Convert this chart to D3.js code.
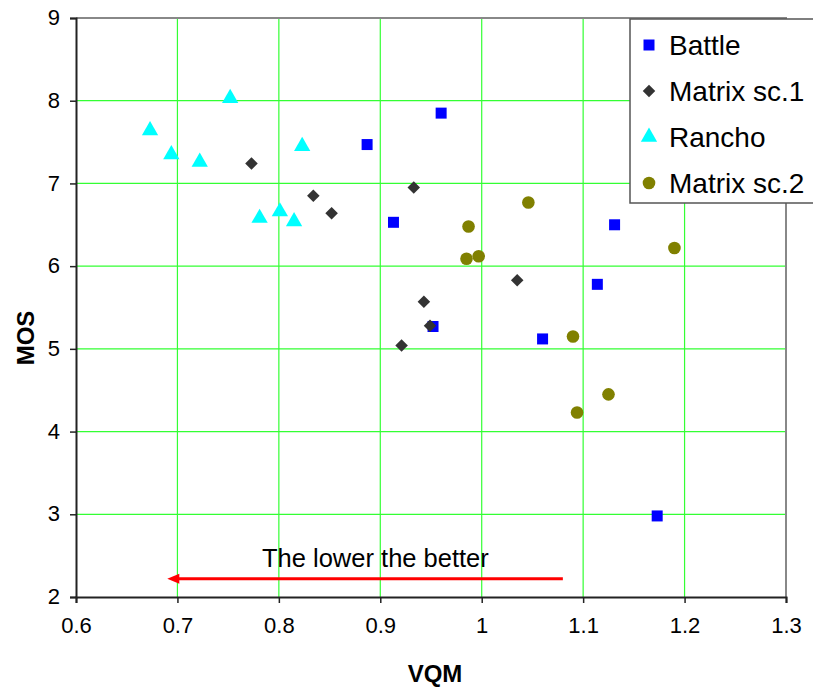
<!DOCTYPE html>
<html><head><meta charset="utf-8">
<script src="https://cdn.jsdelivr.net/npm/d3@7"></script>
<style>body{margin:0;background:#fff;} svg{display:block;font-family:Arial,"Liberation Sans",sans-serif;}</style>
</head><body><svg id="c" width="813" height="689"></svg>
<script>
const xTicks = [0.6,0.7,0.8,0.9,1.0,1.1,1.2,1.3];
const yTicks = [2,3,4,5,6,7,8,9];
const seriesNames = ["Battle","Matrix sc.1","Rancho","Matrix sc.2"];
const battleX = [0.960,0.887,0.913,1.131,1.114,0.952,1.060,1.173];
const battleY = [7.85,7.47,6.53,6.50,5.78,5.27,5.12,2.98];
const matrix1X = [0.773,0.834,0.852,0.933,1.035,0.943,0.949,0.921];
const matrix1Y = [7.24,6.85,6.64,6.95,5.83,5.57,5.28,5.04];
const ranchoX = [0.673,0.694,0.722,0.752,0.823,0.781,0.801,0.815];
const ranchoY = [7.64,7.35,7.26,8.03,7.45,6.58,6.66,6.54];
const matrix2X = [1.046,0.987,0.985,0.997,1.190,1.090,1.125,1.094];
const matrix2Y = [6.77,6.48,6.09,6.12,6.22,5.15,4.45,4.23];
const annotation = "The lower the better";
const arrowFrom = [1.08, 2.22], arrowTo = [0.69, 2.22];

const svg = d3.select("#c");
const L=76, R=786, T=18, B=597;
const x = d3.scaleLinear().domain([0.6,1.3]).range([L,R]);
const y = d3.scaleLinear().domain([2,9]).range([B,T]);

// grid
svg.append("g").selectAll("line").data(xTicks.slice(1,-1)).join("line")
  .attr("x1",d=>x(d)).attr("x2",d=>x(d)).attr("y1",T).attr("y2",B)
  .attr("stroke","#33ff33").attr("stroke-width",1.2);
svg.append("g").selectAll("line").data(yTicks.slice(1,-1)).join("line")
  .attr("y1",d=>y(d)).attr("y2",d=>y(d)).attr("x1",L).attr("x2",R)
  .attr("stroke","#33ff33").attr("stroke-width",1.2);
// top/right border
svg.append("path").attr("d",`M${L},${T}H${R}V${B}`).attr("fill","none").attr("stroke","#888").attr("stroke-width",2);

// axes
const xAxis = svg.append("g").attr("transform",`translate(0,${B})`)
  .call(d3.axisBottom(x).tickValues(xTicks).tickFormat(d=>String(+d.toFixed(1))).tickSize(6).tickPadding(14));
const yAxis = svg.append("g").attr("transform",`translate(${L},0)`)
  .call(d3.axisLeft(y).tickValues(yTicks).tickFormat(d3.format("d")).tickSize(6).tickPadding(10));
[xAxis,yAxis].forEach(g=>{
  g.attr("font-size",22).attr("font-family","Arial,'Liberation Sans',sans-serif");
  g.select(".domain").attr("stroke","#222").attr("stroke-width",2);
  g.selectAll(".tick line").attr("stroke","#222").attr("stroke-width",1.5);
  g.selectAll("text").attr("font-size",22).attr("fill","#000");
});
yAxis.selectAll("text").attr("dy","0.3em");

// axis titles
svg.append("text").attr("x",435).attr("y",682).attr("text-anchor","middle")
  .attr("font-weight","bold").attr("font-size",24).text("VQM");
svg.append("text").attr("transform","translate(34,338) rotate(-90)").attr("text-anchor","middle")
  .attr("font-weight","bold").attr("font-size",24).text("MOS");

// annotation
svg.append("text").attr("x",262).attr("y",567).attr("font-size",25.5).text(annotation);
svg.append("line").attr("x1",x(arrowFrom[0])).attr("y1",y(arrowFrom[1])).attr("x2",x(arrowTo[0])+10).attr("y2",y(arrowTo[1]))
  .attr("stroke","#ff0000").attr("stroke-width",3);
svg.append("path").attr("d",`M${x(arrowTo[0])},${y(arrowTo[1])}l12,-5v10z`).attr("fill","#ff0000");

// markers
const sym = {
  "Battle": {type:d3.symbolSquare,size:121,color:"#0000ff"},
  "Matrix sc.1": {type:d3.symbolDiamond2,size:100,color:"#333333"},
  "Rancho": {type:d3.symbolTriangle,size:115,color:"#00ffff"},
  "Matrix sc.2": {type:d3.symbolCircle,size:125,color:"#808000"}
};
const data = [[battleX,battleY],[matrix1X,matrix1Y],[ranchoX,ranchoY],[matrix2X,matrix2Y]];
data.forEach(([xs,ys],i)=>{
  const s = sym[seriesNames[i]];
  svg.append("g").selectAll("path").data(xs.map((v,j)=>[v,ys[j]])).join("path")
    .attr("transform",d=>`translate(${x(d[0])},${y(d[1])})`)
    .attr("d",d3.symbol(s.type,s.size)).attr("fill",s.color);
});

// legend
const lg = svg.append("g");
lg.append("rect").attr("x",630).attr("y",19).attr("width",200).attr("height",184)
  .attr("fill","#fff").attr("stroke","#555").attr("stroke-width",1.5);
seriesNames.forEach((n,i)=>{
  const cy = 45 + i*46;
  const s = sym[n];
  lg.append("path").attr("transform",`translate(649,${cy})`).attr("d",d3.symbol(s.type,s.size)).attr("fill",s.color);
  lg.append("text").attr("x",669).attr("y",cy+10).attr("font-size",28).text(n);
});
</script></body></html>
